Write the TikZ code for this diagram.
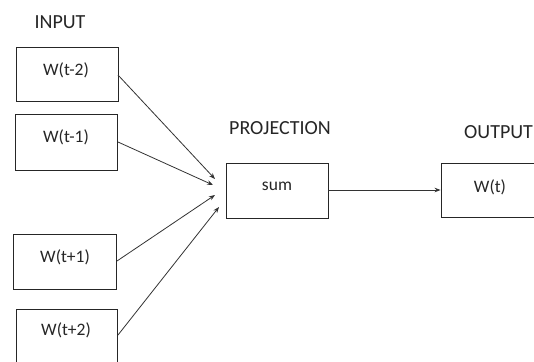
\documentclass[tikz,border=0pt]{standalone}
\usepackage{fontspec}
\setmainfont{Carlito}
\usetikzlibrary{arrows.meta}
\begin{document}
\begin{tikzpicture}[x=1pt,y=-1pt,
  boxst/.style={draw=black!85,line width=0.9pt},
  lbl/.style={font=\fontsize{20}{22}\selectfont,text=black!85,inner sep=0pt},
  wtxt/.style={font=\fontsize{17.5}{19}\selectfont,text=black!85,inner sep=0pt},
  arr/.style={draw=black!80,line width=0.8pt,-{Stealth[length=6pt,width=4.5pt]}}]
\useasboundingbox (0,0) rectangle (534,361);
\fill[white] (0,0) rectangle (534,361);
% labels
\node[lbl] (lin) at (60,22) {INPUT};
\node[lbl] (lproj) at (280,128) {PROJECTION};
\node[lbl,anchor=west] (lout) at (464,132) {OUTPUT};
% input boxes
\node[boxst,minimum width=102pt,minimum height=54pt,inner sep=0pt] (b1) at (67,74) {};
\node[boxst,minimum width=102pt,minimum height=56pt,inner sep=0pt] (b2) at (66,142) {};
\node[boxst,minimum width=103pt,minimum height=55pt,inner sep=0pt] (b3) at (64.5,261.5) {};
\node[boxst,minimum width=101pt,minimum height=60pt,inner sep=0pt] (b4) at (66.5,339) {};
\node[wtxt] (t1) at (66,70) {W(t-2)};
\node[wtxt] (t2) at (66,137) {W(t-1)};
\node[wtxt] (t3) at (65,257) {W(t+1)};
\node[wtxt] (t4) at (66,330) {W(t+2)};
% projection
\node[boxst,minimum width=102pt,minimum height=55pt,inner sep=0pt] (sum) at (277,190.5) {};
\node[wtxt] (tsum) at (277,186) {sum};
% output
\node[boxst,minimum width=110pt,minimum height=54pt,inner sep=0pt] (out) at (496,190) {};
\node[wtxt] (tout) at (490,187) {W(t)};
% connector endpoints
\coordinate (s1) at (118,75);
\coordinate (s2) at (118,142);
\coordinate (s3) at (117,261);
\coordinate (s4) at (118,335);
\coordinate (e1) at (215,179);
\coordinate (e2) at (213,185);
\coordinate (e3) at (215,195);
\coordinate (e4) at (219,207);
\draw[arr] (s1) -- (e1);
\draw[arr] (s2) -- (e2);
\draw[arr] (s3) -- (e3);
\draw[arr] (s4) -- (e4);
\draw[arr] (sum.east |- 0,190) -- (out.west |- 0,190);
\end{tikzpicture}
\end{document}
